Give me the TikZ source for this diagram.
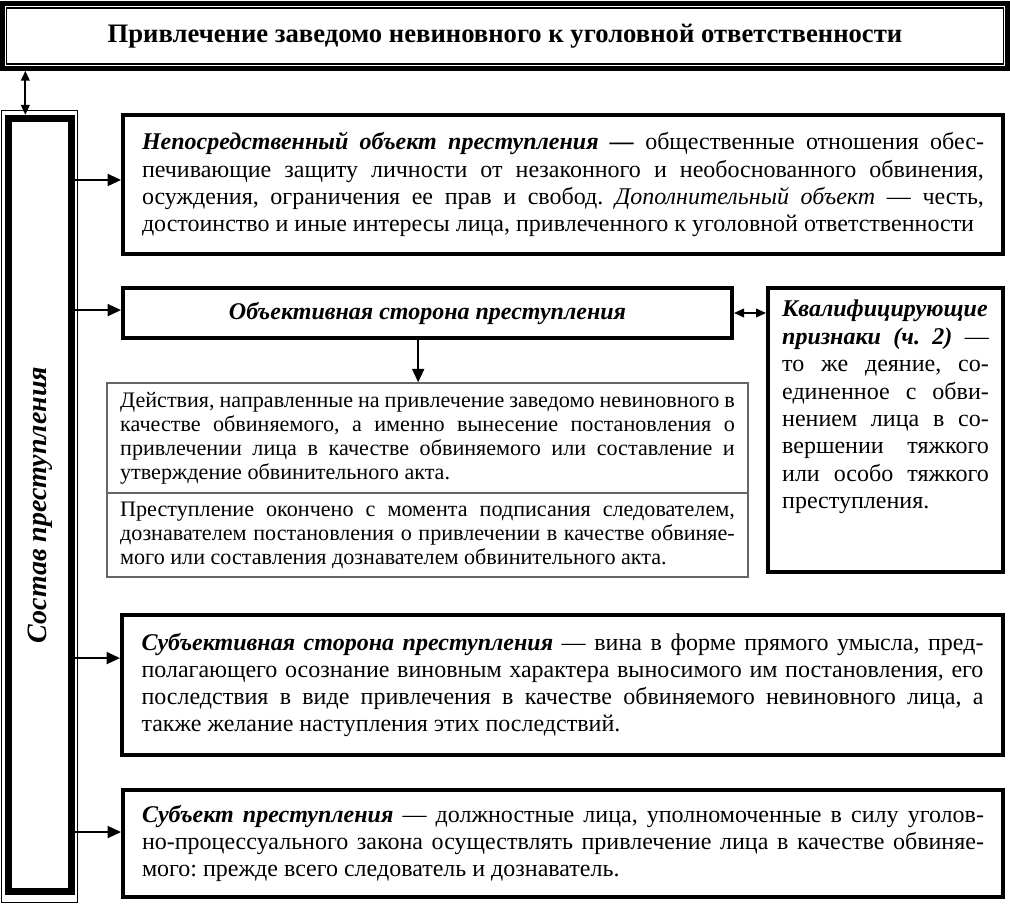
\documentclass[tikz,border=0pt]{standalone}
\usepackage{fontspec}
\setmainfont{Liberation Serif}
\usetikzlibrary{arrows.meta}
\frenchspacing

\begin{document}
\begin{tikzpicture}[x=0.75pt, y=-0.75pt,
	box/.style={rectangle, draw, line width=3pt, align=justify, inner sep=0pt, font=\fontsize{18}{20.3}\selectfont},
	thinbox/.style={rectangle, draw=black!60, line width=1.1pt, align=justify, inner sep=0pt, font=\fontsize{16.6}{18}\selectfont},
	arr/.style={-{Triangle[length=10pt,width=9pt]}, line width=1.3pt},
	darr/.style={{Triangle[length=7.5pt,width=6.5pt]}-{Triangle[length=7.5pt,width=6.5pt]}, line width=1.3pt}]
	\useasboundingbox (0,0) rectangle (1010,904);

	\node[rectangle, draw, line width=3.6pt, minimum width=754pt, minimum height=48.5pt, inner sep=0pt, font=\fontsize{20}{24}\selectfont\bfseries] (0) at (505,36) {Привлечение заведомо невиновного к уголовной ответственности};
	\draw[line width=0.9pt] ([shift={(5pt,-5pt)}]0.north west) rectangle ([shift={(-5pt,5pt)}]0.south east);

	\node[rectangle, draw, line width=5.2pt, minimum width=47.25pt, minimum height=580pt, inner sep=0pt, font=\fontsize{21}{24}\selectfont\bfseries\itshape] (1) at (40,505) {\rotatebox{90}{Состав преступления}};
	\draw[line width=0.8pt] ([shift={(-2.7pt,3.4pt)}]1.north west) rectangle ([shift={(1.9pt,-5.3pt)}]1.south east);

	\node[box, minimum width=660pt, minimum height=104.25pt, text width=631.5pt] (2) at (563,184.5) {\textbf{\textit{Непосредственный объект преступления —}} общественные отношения обес-\linebreak печивающие защиту личности от незаконного и необоснованного обвинения,\linebreak осуждения, ограничения ее прав и свобод. \textit{Дополнительный объект} — честь,\linebreak достоинство и иные интересы лица, привлеченного к уголовной ответственности};
	\node[box, minimum width=456.75pt, minimum height=37.5pt, align=center] (3) at (427.5,313) {\textbf{\textit{Объективная сторона преступления}}};
	\node[thinbox, minimum width=480.75pt, minimum height=82.5pt, text width=461pt] (4) at (427.5,438) {Действия, направленные на привлечение заведомо невиновного в\linebreak качестве обвиняемого, а именно вынесение постановления о\linebreak привлечении лица в качестве обвиняемого или составление и\linebreak утверждение обвинительного акта.};
	\node[thinbox, minimum width=480.75pt, minimum height=63pt, text width=461pt] (5) at (427.5,535) {Преступление окончено с момента подписания следователем,\linebreak дознавателем постановления о привлечении в качестве обвиняе-\linebreak мого или составления дознавателем обвинительного акта.};
	\node[box, minimum width=176.25pt, minimum height=213pt, font=\fontsize{18}{20.6}\selectfont] (6) at (885.5,430) {\parbox[c][195pt][t]{155pt}{\textbf{\textit{Квалифицирующие}}\linebreak \textbf{\textit{признаки (ч. 2)}} —\linebreak то же деяние, со-\linebreak единенное с обви-\linebreak нением лица в со-\linebreak вершении тяжкого\linebreak или особо тяжкого\linebreak преступления.}};
	\node[box, minimum width=660.75pt, minimum height=105pt, text width=631.5pt] (7) at (562.5,685) {\textbf{\textit{Субъективная сторона преступления}} — вина в форме прямого умысла, пред-\linebreak полагающего осознание виновным характера выносимого им постановления, его\linebreak последствия в виде привлечения в качестве обвиняемого невиновного лица, а\linebreak также желание наступления этих последствий.\par\vspace*{17pt}};
	\node[box, minimum width=660pt, minimum height=80.25pt, text width=631.5pt] (8) at (563,843.5) {\textbf{\textit{Субъект преступления}} — должностные лица, уполномоченные в силу уголов-\linebreak но-процессуального закона осуществлять привлечение лица в качестве обвиняе-\linebreak мого: прежде всего следователь и дознаватель.};

	% arrow ends
	\coordinate (2in) at ([yshift=3.4pt]2.west);
	\coordinate (3in) at ([yshift=2.2pt]3.west);
	\coordinate (7in) at ([yshift=20.2pt]7.west);
	\coordinate (8in) at ([yshift=8.6pt]8.west);
	\coordinate (top) at ([xshift=-11pt]1.north);
	\coordinate (down) at ([xshift=-7pt]3.south);

	\draw[darr] (top) -- (top |- 0.south);
	\draw[arr] (1.east |- 2in) -- (2in);
	\draw[arr] (1.east |- 3in) -- (3in);
	\draw[arr] (1.east |- 7in) -- (7in);
	\draw[arr] (1.east |- 8in) -- (8in);
	\draw[arr] (down) -- (down |- 4.north);
	\draw[darr] (3.east) -- (3.east -| 6.west);
\end{tikzpicture}
\end{document}
